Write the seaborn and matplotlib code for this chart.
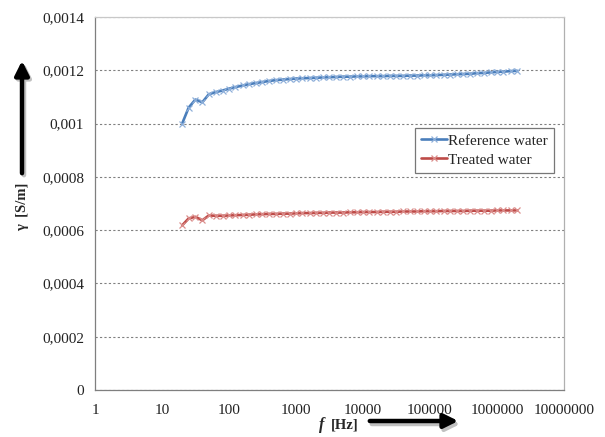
import matplotlib
matplotlib.use("Agg")
import matplotlib.pyplot as plt
import seaborn as sns
import pandas as pd
from matplotlib.ticker import FixedLocator, FixedFormatter, NullLocator
from matplotlib.lines import Line2D

# ---- data ----
freq = [20, 25, 31.5, 40, 50, 63, 80, 100, 125, 160,
        200, 250, 315, 400, 500, 630, 800, 1000, 1250, 1600,
        2000, 2500, 3150, 4000, 5000, 6300, 8000, 10000, 12500, 16000,
        20000, 25000, 31500, 40000, 50000, 63000, 80000, 100000, 125000, 160000,
        200000, 250000, 315000, 400000, 500000, 630000, 800000, 1000000, 1250000, 1600000,
        2000000]

reference_water = [0.001000, 0.001060, 0.001090, 0.001080, 0.001110, 0.001118, 0.001124, 0.001131, 0.001137, 0.001143,
                   0.001148, 0.001152, 0.001156, 0.001160, 0.001163, 0.001165, 0.001167, 0.001169, 0.001170, 0.001171,
                   0.001172, 0.001173, 0.001174, 0.001175, 0.001176, 0.001176, 0.001177, 0.001177, 0.001178, 0.001178,
                   0.001178, 0.001179, 0.001179, 0.001179, 0.001180, 0.001180, 0.001181, 0.001181, 0.001182, 0.001183,
                   0.001184, 0.001185, 0.001186, 0.001187, 0.001189, 0.001190, 0.001192, 0.001194, 0.001195, 0.001197,
                   0.001198]

treated_water = [0.000618, 0.000644, 0.000650, 0.000637, 0.000655, 0.000654, 0.000654, 0.000655, 0.000656, 0.000657,
                 0.000658, 0.000659, 0.000660, 0.000661, 0.000661, 0.000662, 0.000662, 0.000663, 0.000664, 0.000664,
                 0.000665, 0.000665, 0.000666, 0.000666, 0.000666, 0.000667, 0.000667, 0.000668, 0.000668, 0.000668,
                 0.000669, 0.000669, 0.000669, 0.000670, 0.000670, 0.000670, 0.000671, 0.000671, 0.000671, 0.000672,
                 0.000672, 0.000672, 0.000672, 0.000673, 0.000673, 0.000673, 0.000673, 0.000674, 0.000674, 0.000674,
                 0.000674]

series_names = ["Reference water", "Treated water"]
series_colors = ["#4A7EBB", "#BE4B48"]
marker_colors = ["#8FB0DA", "#DB8E8C"]

x_ticks = [1, 10, 100, 1000, 10000, 100000, 1000000, 10000000]
x_tick_labels = ["1", "10", "100", "1000", "10000", "100000", "1000000", "10000000"]
y_ticks = [0, 0.0002, 0.0004, 0.0006, 0.0008, 0.001, 0.0012, 0.0014]
y_tick_labels = ["0", "0,0002", "0,0004", "0,0006", "0,0008", "0,001", "0,0012", "0,0014"]

df = pd.DataFrame({
    "f": freq * 2,
    "gamma": reference_water + treated_water,
    "series": [series_names[0]] * len(freq) + [series_names[1]] * len(freq),
})

sns.set_theme(style="white")
plt.rcParams["font.family"] = ["Liberation Serif", "DejaVu Serif"]

fig = plt.figure(figsize=(6.05, 4.37), dpi=100)
ax = fig.add_axes([95 / 605, 1 - 390 / 437, 469 / 605, 373 / 437])

sns.lineplot(data=df, x="f", y="gamma", hue="series", palette=series_colors,
             marker="x", markersize=4.5, markeredgewidth=0.9, linewidth=1.9,
             ax=ax, legend=False)
for line, mc in zip(ax.lines, marker_colors):
    line.set_markeredgecolor(mc)

ax.set_xscale("log")
ax.set_xlim(1, 10000000)
ax.set_ylim(0, 0.0014)
ax.xaxis.set_major_locator(FixedLocator(x_ticks))
ax.xaxis.set_major_formatter(FixedFormatter(x_tick_labels))
ax.xaxis.set_minor_locator(NullLocator())
ax.yaxis.set_major_locator(FixedLocator(y_ticks))
ax.yaxis.set_major_formatter(FixedFormatter(y_tick_labels))

ax.grid(axis="y", color="#808080", linestyle=(0, (2, 2)), linewidth=0.8)
ax.grid(axis="x", visible=False)
ax.tick_params(axis="both", which="major", direction="out", length=4, width=0.8,
               color="#7f7f7f", labelsize=11, labelcolor="#222222", pad=4)
ax.tick_params(axis="x", pad=6)
for side in ["left", "bottom"]:
    ax.spines[side].set_color("#7f7f7f")
    ax.spines[side].set_linewidth(0.9)
ax.spines["right"].set_color("#b0b0b0")
ax.spines["top"].set_color("#c8c8c8")
ax.spines["right"].set_linewidth(0.9)
ax.spines["top"].set_linewidth(0.9)
ax.set_xlabel("")
ax.set_ylabel("")

handles = [Line2D([], [], color=c, lw=1.9, marker="x", markersize=4.5,
                  markeredgecolor=mc, markeredgewidth=0.9)
           for c, mc in zip(series_colors, marker_colors)]
leg = ax.legend(handles, series_names, loc="upper left",
                bbox_to_anchor=(0.682, 0.703), frameon=True,
                fancybox=False, edgecolor="#555555", fontsize=11,
                handlelength=1.7, handletextpad=0.1, borderpad=0.4,
                labelspacing=0.35, borderaxespad=0)
leg.get_frame().set_linewidth(0.9)

# axis titles with arrows
fig.text(23 / 605, 1 - 207 / 437, "γ  [S/m]", rotation=90, ha="center", va="center",
         fontsize=10.5, fontweight="bold", family=["Liberation Serif", "DejaVu Serif"])
fig.text(322 / 605, 1 - 425 / 437, "f", ha="center", va="center", fontsize=11.5,
         fontweight="bold", fontstyle="italic")
fig.text(345 / 605, 1 - 425 / 437, "[Hz]", ha="center", va="center", fontsize=10.5,
         fontweight="bold")

arrow_kw = dict(arrowstyle="-|>,head_length=0.7,head_width=0.35", lw=3.2)
# shadows
fig.add_artist(matplotlib.patches.FancyArrowPatch(
    (24 / 605, 1 - 178 / 437), (24 / 605, 1 - 60 / 437), transform=fig.transFigure,
    color="#c0c0c0", mutation_scale=12, **arrow_kw))
fig.add_artist(matplotlib.patches.FancyArrowPatch(
    (369 / 605, 1 - 424 / 437), (463 / 605, 1 - 424 / 437), transform=fig.transFigure,
    color="#c0c0c0", mutation_scale=12, **arrow_kw))
fig.add_artist(matplotlib.patches.FancyArrowPatch(
    (22 / 605, 1 - 176 / 437), (22 / 605, 1 - 58 / 437), transform=fig.transFigure,
    color="black", mutation_scale=12, **arrow_kw))
fig.add_artist(matplotlib.patches.FancyArrowPatch(
    (367 / 605, 1 - 421 / 437), (461 / 605, 1 - 421 / 437), transform=fig.transFigure,
    color="black", mutation_scale=12, **arrow_kw))

fig.savefig("out.png", dpi=100)
